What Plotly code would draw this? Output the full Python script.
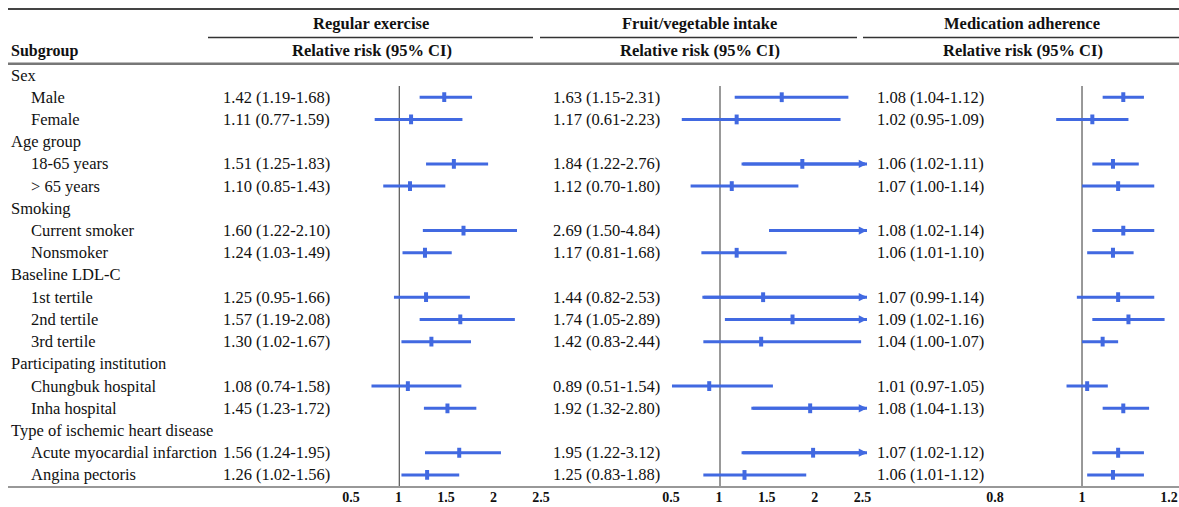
import plotly.graph_objects as go

W, H = 1179, 507

# ---------------- data ----------------
groups = ["Sex", "Age group", "Smoking", "Baseline LDL-C",
          "Participating institution", "Type of ischemic heart disease"]
group_items = [["Male", "Female"],
               ["18-65 years", "> 65 years"],
               ["Current smoker", "Nonsmoker"],
               ["1st tertile", "2nd tertile", "3rd tertile"],
               ["Chungbuk hospital", "Inha hospital"],
               ["Acute myocardial infarction", "Angina pectoris"]]

panel_titles = ["Regular exercise", "Fruit/vegetable intake", "Medication adherence"]
col_title = "Relative risk (95% CI)"

exercise_rr = [1.42, 1.11, 1.51, 1.10, 1.60, 1.24, 1.25, 1.57, 1.30, 1.08, 1.45, 1.56, 1.26]
exercise_lo = [1.19, 0.77, 1.25, 0.85, 1.22, 1.03, 0.95, 1.19, 1.02, 0.74, 1.23, 1.24, 1.02]
exercise_hi = [1.68, 1.59, 1.83, 1.43, 2.10, 1.49, 1.66, 2.08, 1.67, 1.58, 1.72, 1.95, 1.56]

fruit_rr = [1.63, 1.17, 1.84, 1.12, 2.69, 1.17, 1.44, 1.74, 1.42, 0.89, 1.92, 1.95, 1.25]
fruit_lo = [1.15, 0.61, 1.22, 0.70, 1.50, 0.81, 0.82, 1.05, 0.83, 0.51, 1.32, 1.22, 0.83]
fruit_hi = [2.31, 2.23, 2.76, 1.80, 4.84, 1.68, 2.53, 2.89, 2.44, 1.54, 2.80, 3.12, 1.88]

med_rr = [1.08, 1.02, 1.06, 1.07, 1.08, 1.06, 1.07, 1.09, 1.04, 1.01, 1.08, 1.07, 1.06]
med_lo = [1.04, 0.95, 1.02, 1.00, 1.02, 1.01, 0.99, 1.02, 1.00, 0.97, 1.04, 1.02, 1.01]
med_hi = [1.12, 1.09, 1.11, 1.14, 1.14, 1.10, 1.14, 1.16, 1.07, 1.05, 1.13, 1.12, 1.12]

# x-axis limits and tick labels of each panel
panel_xlim = [[0.5, 2.5], [0.5, 2.5], [0.9, 1.18]]
tick_vals = [[0.5, 1, 1.5, 2, 2.5], [0.5, 1, 1.5, 2, 2.5], [0.8, 1, 1.2]]
tick_text = [["0.5", "1", "1.5", "2", "2.5"], ["0.5", "1", "1.5", "2", "2.5"], ["0.8", "1", "1.2"]]
tick_span = [[0.5, 2.5], [0.5, 2.5], [0.8, 1.2]]

# ---------------- layout helpers ----------------
BLUE = "#4169e1"
FONT = "Liberation Serif"
TXT = 16.5


def X(px):
    return px / W


def Y(py):
    return 1 - py / H


ROW0, ROWH = 75, 22.22  # pixel centre of first row, row pitch

# build rows
row_labels, row_is_group, item_rows = [], [], []
for g, items in zip(groups, group_items):
    row_labels.append(g)
    row_is_group.append(True)
    for it in items:
        item_rows.append(len(row_labels))
        row_labels.append(it)
        row_is_group.append(False)

panels = [(exercise_rr, exercise_lo, exercise_hi),
          (fruit_rr, fruit_lo, fruit_hi),
          (med_rr, med_lo, med_hi)]

# pixel domains of data axes (from where 1 sits and px per unit)
data_dom_px = [[345.8, 559.8], [671.0, 867.0], [1030.4, 1174.9]]
tick_dom_px = [[351.0, 541.0], [671.0, 862.6], [995.0, 1169.0]]
est_text_x = [221, 551, 875]
title_cx = [371, 699, 1022]
sub_cx = [371.5, 700, 1023]

fig = go.Figure()
annotations = []
shapes = []

ax_names = ["x", "x2", "x3"]
for p, (rr, lo, hi) in enumerate(panels):
    xmin, xmax = panel_xlim[p]
    lx, ly = [], []
    for r, l, h in zip(item_rows, lo, hi):
        lx += [max(l, xmin), min(h, xmax), None]
        ly += [r, r, None]
    fig.add_trace(go.Scatter(x=lx, y=ly, mode="lines", xaxis=ax_names[p], yaxis="y",
                             line=dict(color=BLUE, width=3), hoverinfo="skip"))
    fig.add_trace(go.Scatter(x=rr, y=item_rows, mode="markers", xaxis=ax_names[p], yaxis="y",
                             marker=dict(symbol="line-ns", size=7,
                                         line=dict(color=BLUE, width=4))))
    # arrows for clipped upper limits
    for r, l, h in zip(item_rows, lo, hi):
        if h > xmax:
            annotations.append(dict(x=xmax, y=r, xref=ax_names[p], yref="y",
                                    ax=max(l, xmin), ay=r, axref=ax_names[p], ayref="y",
                                    text="", showarrow=True, arrowhead=2, arrowsize=0.55,
                                    arrowwidth=3, arrowcolor=BLUE, standoff=0))
    # reference line at 1
    shapes.append(dict(type="line", xref=ax_names[p], yref="y", x0=1, x1=1,
                       y0=item_rows[0] - 0.5, y1=len(row_labels) - 0.5,
                       line=dict(color="#555555", width=1.2), layer="below"))
    # estimate text
    for r, v, l, h in zip(item_rows, rr, lo, hi):
        annotations.append(dict(x=X(est_text_x[p]), y=r, xref="paper", yref="y",
                                text=f"{v:.2f} ({l:.2f}-{h:.2f})", showarrow=False,
                                xanchor="left", yanchor="middle",
                                font=dict(family=FONT, size=TXT, color="#111111")))
    # headers
    annotations.append(dict(x=X(title_cx[p]), y=Y(23), xref="paper", yref="paper",
                            text=f"<b>{panel_titles[p]}</b>", showarrow=False,
                            xanchor="center", yanchor="middle",
                            font=dict(family=FONT, size=16.5, color="#111111")))
    annotations.append(dict(x=X(sub_cx[p]), y=Y(51), xref="paper", yref="paper",
                            text=f"<b>{col_title}</b>", showarrow=False,
                            xanchor="center", yanchor="middle",
                            font=dict(family=FONT, size=16.5, color="#111111")))
    # invisible trace to hold the tick-label axis
    fig.add_trace(go.Scatter(x=tick_span[p], y=[None, None], xaxis=f"x{p + 4}", yaxis="y",
                             mode="markers", hoverinfo="skip", showlegend=False))

annotations.append(dict(x=X(9), y=Y(51), xref="paper", yref="paper", text="<b>Subgroup</b>",
                        showarrow=False, xanchor="left", yanchor="middle",
                        font=dict(family=FONT, size=16, color="#111111")))

for i, (lab, isg) in enumerate(zip(row_labels, row_is_group)):
    annotations.append(dict(x=X(9 if isg else 29), y=i, xref="paper", yref="y", text=lab,
                            showarrow=False, xanchor="left", yanchor="middle",
                            font=dict(family=FONT, size=TXT, color="#111111")))

# table rules
shapes += [
    dict(type="line", xref="paper", yref="paper", x0=X(8), x1=1, y0=Y(9), y1=Y(9),
         line=dict(color="#444444", width=2)),
    dict(type="line", xref="paper", yref="paper", x0=X(208), x1=X(533), y0=Y(37.5), y1=Y(37.5),
         line=dict(color="#333333", width=1.3)),
    dict(type="line", xref="paper", yref="paper", x0=X(540), x1=X(857), y0=Y(37.5), y1=Y(37.5),
         line=dict(color="#333333", width=1.3)),
    dict(type="line", xref="paper", yref="paper", x0=X(863), x1=1, y0=Y(37.5), y1=Y(37.5),
         line=dict(color="#333333", width=1.3)),
    dict(type="line", xref="paper", yref="paper", x0=X(8), x1=1, y0=Y(63.8), y1=Y(63.8),
         line=dict(color="#777777", width=2.5)),
    dict(type="line", xref="paper", yref="paper", x0=X(8), x1=1, y0=Y(487), y1=Y(487),
         line=dict(color="#333333", width=1.2)),
]

ytop = -ROW0 / ROWH
ybot = (H - ROW0) / ROWH

layout = dict(
    width=W, height=H, autosize=False,
    margin=dict(l=0, r=0, t=0, b=0, pad=0, autoexpand=False),
    paper_bgcolor="white", plot_bgcolor="rgba(0,0,0,0)", showlegend=False,
    yaxis=dict(range=[ybot, ytop], domain=[0, 1], visible=False, fixedrange=True),
    annotations=annotations, shapes=shapes,
)
for p in range(3):
    d0, d1 = data_dom_px[p]
    key = "xaxis" if p == 0 else f"xaxis{p + 1}"
    layout[key] = dict(domain=[X(d0), X(d1)], range=panel_xlim[p], visible=False,
                       anchor="y", fixedrange=True)
    t0, t1 = tick_dom_px[p]
    layout[f"xaxis{p + 4}"] = dict(domain=[X(t0), X(t1)], range=tick_span[p], anchor="free",
                                   position=Y(487), tickvals=tick_vals[p], ticktext=tick_text[p],
                                   showgrid=False, zeroline=False, showline=False, ticks="",
                                   automargin=False,
                                   tickfont=dict(family=FONT, size=14, color="#111111", weight="bold"),
                                   fixedrange=True)

fig.update_layout(**layout)
fig.write_html("out.html", config={"responsive": False, "displayModeBar": False},
               post_script="document.body.style.margin='0';document.body.style.overflow='hidden';")
